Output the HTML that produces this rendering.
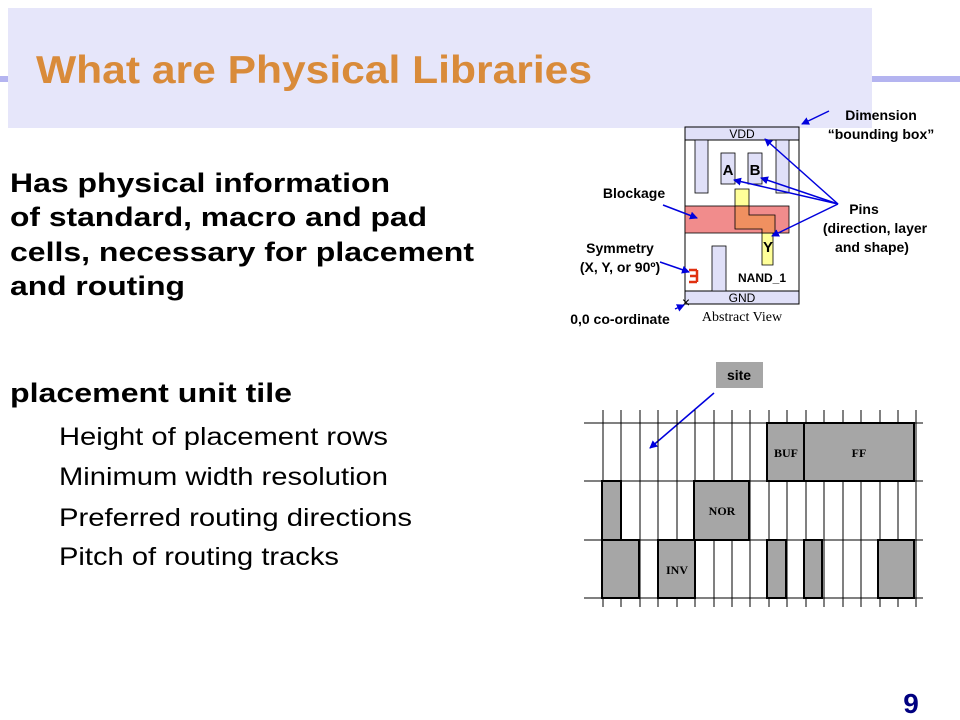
<!DOCTYPE html>
<html><head><meta charset="utf-8"><style>
html,body{margin:0;padding:0;background:#fff;}
svg{display:block;font-family:"Liberation Sans",Arial,sans-serif;}
</style></head><body>
<svg width="960" height="720" viewBox="0 0 960 720" xmlns="http://www.w3.org/2000/svg">
<defs>
<marker id="ah" markerWidth="8" markerHeight="8" refX="7" refY="4" orient="auto" markerUnits="userSpaceOnUse">
<path d="M0,0 L8,4 L0,8 z" fill="#0000DD"/></marker>
</defs>
<rect x="0" y="76" width="960" height="6" fill="#B4B4F0"/>
<rect x="8" y="8" width="864" height="120" fill="#E6E6FA"/>
<text x="36" y="83" font-size="39" font-weight="bold" fill="#D98B3A" textLength="556" lengthAdjust="spacingAndGlyphs">What are Physical Libraries</text>

<g font-size="27" font-weight="bold" fill="#000">
<text x="10" y="192" textLength="380" lengthAdjust="spacingAndGlyphs">Has physical information</text>
<text x="10" y="226" textLength="417" lengthAdjust="spacingAndGlyphs">of standard, macro and pad</text>
<text x="10" y="261" textLength="464" lengthAdjust="spacingAndGlyphs">cells, necessary for placement</text>
<text x="10" y="295" textLength="175" lengthAdjust="spacingAndGlyphs">and routing</text>
<text x="10" y="402" textLength="282" lengthAdjust="spacingAndGlyphs">placement unit tile</text>
</g>
<g font-size="25" fill="#000">
<text x="59" y="445" textLength="329" lengthAdjust="spacingAndGlyphs">Height of placement rows</text>
<text x="59" y="485" textLength="329" lengthAdjust="spacingAndGlyphs">Minimum width resolution</text>
<text x="59" y="526" textLength="353" lengthAdjust="spacingAndGlyphs">Preferred routing directions</text>
<text x="59" y="565" textLength="280" lengthAdjust="spacingAndGlyphs">Pitch of routing tracks</text>
</g>

<!-- abstract view -->
<rect x="685" y="127" width="114" height="177" fill="#fff" stroke="#000" stroke-width="1"/>
<rect x="685" y="127" width="114" height="13" fill="#E0E0F8" stroke="#000" stroke-width="1"/>
<rect x="685" y="291" width="114" height="13" fill="#E0E0F8" stroke="#000" stroke-width="1"/>
<text x="742" y="138" font-size="12" text-anchor="middle">VDD</text>
<text x="742" y="302" font-size="12" text-anchor="middle">GND</text>
<rect x="695" y="140" width="13" height="53" fill="#E0E0F8" stroke="#000" stroke-width="0.8"/>
<rect x="776" y="140" width="13" height="53" fill="#E0E0F8" stroke="#000" stroke-width="0.8"/>
<rect x="721" y="153" width="14" height="31" fill="#E0E0F8" stroke="#000" stroke-width="0.8"/>
<rect x="748" y="153" width="14" height="31" fill="#E0E0F8" stroke="#000" stroke-width="0.8"/>
<text x="728" y="175" font-size="15" font-weight="bold" text-anchor="middle">A</text>
<text x="755" y="175" font-size="15" font-weight="bold" text-anchor="middle">B</text>
<rect x="712" y="246" width="14" height="45" fill="#E0E0F8" stroke="#000" stroke-width="0.8"/>
<path d="M735,189 H749 V215 H773 V265 H762 V229 H735 Z" fill="#FFFF99" stroke="#000" stroke-width="0.8"/>
<rect x="685" y="206" width="104" height="27" fill="#F08080" fill-opacity="0.9" stroke="#000" stroke-width="0.8"/>
<path d="M735,206 V229 H762 V233 H775 V215 H749 V206 Z" fill="#F09060" stroke="#000" stroke-width="0.8"/>
<text x="768" y="252" font-size="15" font-weight="bold" text-anchor="middle">Y</text>
<text x="738" y="282" font-size="12" font-weight="bold">NAND_1</text>
<path d="M689,270 H697 M697,270 V282 M697,276 H690 M689,282 H697" stroke="#E03010" stroke-width="2.5" fill="none"/>
<text x="686" y="307" font-size="14" text-anchor="middle">×</text>
<text x="742" y="321" font-family="Liberation Serif,serif" font-size="14" text-anchor="middle">Abstract View</text>

<g font-size="14" font-weight="bold" text-anchor="middle">
<text x="881" y="120">Dimension</text>
<text x="881" y="139">“bounding box”</text>
<text x="634" y="198">Blockage</text>
<text x="864" y="214">Pins</text>
<text x="875" y="233">(direction, layer</text>
<text x="872" y="252">and shape)</text>
<text x="620" y="253">Symmetry</text>
<text x="620" y="272">(X, Y, or 90º)</text>
<text x="620" y="324">0,0 co-ordinate</text>
</g>
<g stroke="#0000DD" stroke-width="1.5" fill="none" marker-end="url(#ah)">
<line x1="829" y1="111" x2="802" y2="124"/>
<line x1="838" y1="204" x2="765" y2="139"/>
<line x1="838" y1="204" x2="734" y2="180"/>
<line x1="838" y1="204" x2="761" y2="178"/>
<line x1="838" y1="204" x2="772" y2="236"/>
<line x1="663" y1="205" x2="697" y2="218"/>
<line x1="660" y1="262" x2="689" y2="272"/>
<line x1="675" y1="309" x2="684" y2="305"/>
<line x1="714" y1="393" x2="650" y2="448"/>
</g>

<!-- placement grid -->
<rect x="716" y="362" width="47" height="26" fill="#A6A6A6"/>
<text x="739" y="380" font-size="14" font-weight="bold" text-anchor="middle">site</text>
<g stroke="#000" stroke-width="1">
<line x1="584" y1="423" x2="923" y2="423"/>
<line x1="584" y1="481" x2="923" y2="481"/>
<line x1="584" y1="540" x2="923" y2="540"/>
<line x1="584" y1="598" x2="923" y2="598"/>
<line x1="603" y1="410" x2="603" y2="607"/><line x1="621" y1="410" x2="621" y2="607"/>
<line x1="640" y1="410" x2="640" y2="607"/><line x1="658" y1="410" x2="658" y2="607"/>
<line x1="677" y1="410" x2="677" y2="607"/><line x1="695" y1="410" x2="695" y2="607"/>
<line x1="714" y1="410" x2="714" y2="607"/><line x1="732" y1="410" x2="732" y2="607"/>
<line x1="750" y1="410" x2="750" y2="607"/><line x1="769" y1="410" x2="769" y2="607"/>
<line x1="787" y1="410" x2="787" y2="607"/><line x1="806" y1="410" x2="806" y2="607"/>
<line x1="824" y1="410" x2="824" y2="607"/><line x1="843" y1="410" x2="843" y2="607"/>
<line x1="861" y1="410" x2="861" y2="607"/><line x1="880" y1="410" x2="880" y2="607"/>
<line x1="898" y1="410" x2="898" y2="607"/><line x1="916" y1="410" x2="916" y2="607"/>
</g>
<g fill="#A6A6A6" stroke="#000" stroke-width="2">
<rect x="767" y="423" width="37" height="58"/>
<rect x="804" y="423" width="110" height="58"/>
<rect x="602" y="481" width="19" height="59"/>
<rect x="694" y="481" width="55" height="59"/>
<rect x="602" y="540" width="37" height="58"/>
<rect x="658" y="540" width="37" height="58"/>
<rect x="767" y="540" width="19" height="58"/>
<rect x="804" y="540" width="18" height="58"/>
<rect x="878" y="540" width="36" height="58"/>
</g>
<g font-family="Liberation Serif,serif" font-size="12" font-weight="bold" text-anchor="middle">
<text x="786" y="457">BUF</text>
<text x="859" y="457">FF</text>
<text x="722" y="515">NOR</text>
<text x="677" y="574">INV</text>
</g>

<text x="911" y="713" font-size="28" font-weight="bold" fill="#000080" text-anchor="middle">9</text>
</svg>
</body></html>
